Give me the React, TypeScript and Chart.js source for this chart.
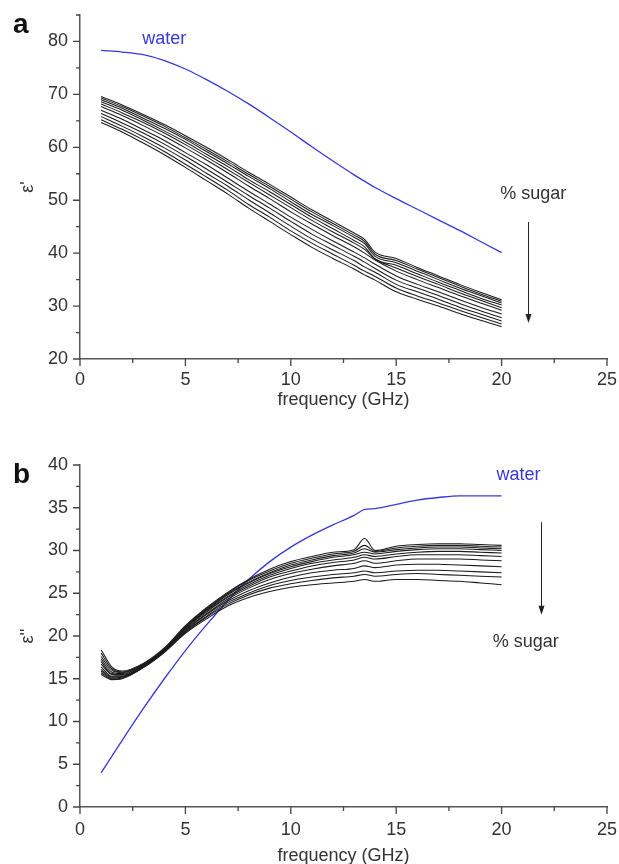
import React, { useEffect, useRef } from 'react';
import { Chart, registerables } from 'chart.js';
Chart.register(...registerables);

const FONT = '"Liberation Sans", Arial, Helvetica, sans-serif';
const BLUE = '#3838d6';
const INK = '#1c1c1c';
const TXT = '#333333';

// ---------- panel a : epsilon' ----------
const freqA = [1, 2, 3, 4, 5, 6, 7, 8, 9, 10, 11, 12, 13, 13.5, 14, 15, 16, 17, 18, 19, 20];
const waterA = [78.3, 78.0, 77.5, 76.4, 74.8, 72.8, 70.6, 68.2, 65.6, 62.9, 60.1, 57.4, 54.8, 53.6, 52.4, 50.3, 48.3, 46.3, 44.3, 42.2, 40.1];
const sugarA1 = [69.6, 68.0, 66.2, 64.3, 62.2, 60.0, 57.7, 55.3, 53.0, 50.6, 48.2, 46.0, 43.8, 42.6, 40.2, 39.0, 37.3, 35.7, 34.1, 32.6, 31.2];
const sugarA2 = [69.3, 67.7, 65.9, 64.0, 61.8, 59.6, 57.3, 54.9, 52.6, 50.2, 47.8, 45.6, 43.4, 42.2, 39.8, 38.6, 37.0, 35.4, 33.8, 32.3, 30.9];
const sugarA3 = [69.0, 67.4, 65.5, 63.6, 61.5, 59.2, 56.9, 54.5, 52.2, 49.7, 47.3, 45.2, 43.0, 41.8, 39.4, 38.2, 36.6, 35.0, 33.4, 32.0, 30.6];
const sugarA4 = [68.6, 67.0, 65.1, 63.1, 61.0, 58.7, 56.4, 53.9, 51.6, 49.2, 46.8, 44.6, 42.4, 41.2, 38.9, 37.7, 36.1, 34.5, 33.0, 31.5, 30.2];
const sugarA5 = [68.2, 66.5, 64.7, 62.7, 60.5, 58.2, 55.8, 53.4, 51.0, 48.6, 46.2, 44.0, 41.9, 40.7, 38.9, 37.2, 35.6, 34.1, 32.5, 31.1, 29.7];
const sugarA6 = [67.7, 66.0, 64.1, 62.1, 59.9, 57.6, 55.2, 52.7, 50.3, 47.8, 45.5, 43.3, 41.2, 40.0, 38.7, 36.6, 35.0, 33.5, 32.0, 30.6, 29.2];
const sugarA7 = [67.0, 65.3, 63.3, 61.3, 59.0, 56.7, 54.2, 51.7, 49.3, 46.8, 44.5, 42.3, 40.2, 39.1, 37.9, 35.7, 34.1, 32.7, 31.2, 29.8, 28.5];
const sugarA8 = [66.4, 64.6, 62.7, 60.6, 58.3, 55.9, 53.4, 50.9, 48.5, 46.0, 43.6, 41.5, 39.4, 38.3, 37.1, 34.9, 33.4, 32.0, 30.5, 29.1, 27.8];
const sugarA9 = [65.8, 64.0, 62.0, 59.9, 57.6, 55.1, 52.7, 50.1, 47.6, 45.1, 42.7, 40.6, 38.6, 37.4, 36.4, 34.1, 32.7, 31.3, 29.8, 28.5, 27.2];
const sugarA10 = [65.2, 63.4, 61.4, 59.2, 56.8, 54.4, 51.9, 49.2, 46.8, 44.2, 41.9, 39.8, 37.7, 36.6, 35.6, 33.4, 31.9, 30.6, 29.2, 27.9, 26.6];
const sugarA11 = [64.7, 62.9, 60.8, 58.6, 56.2, 53.7, 51.2, 48.5, 46.0, 43.5, 41.1, 39.0, 37.0, 35.9, 34.9, 32.7, 31.3, 30.0, 28.6, 27.3, 26.1];
const sugarA = [sugarA1, sugarA2, sugarA3, sugarA4, sugarA5, sugarA6, sugarA7, sugarA8, sugarA9, sugarA10, sugarA11];
const yMajorA = [20, 30, 40, 50, 60, 70, 80];

// ---------- panel b : epsilon'' ----------
const freqB = [1, 1.5, 2, 3, 4, 5, 6, 7, 8, 9, 10, 11, 12, 13, 13.5, 14, 15, 16, 17, 18, 19, 20];
const waterB = [4.0, 5.9, 7.8, 11.5, 15.0, 18.3, 21.3, 24.1, 26.6, 28.7, 30.4, 31.8, 33.0, 34.1, 34.8, 34.9, 35.4, 35.9, 36.2, 36.4, 36.4, 36.4];
const sugarB1 = [18.4, 16.4, 15.9, 16.8, 18.6, 21.2, 23.3, 25.1, 26.6, 27.8, 28.7, 29.3, 29.8, 30.1, 31.4, 30.0, 30.5, 30.7, 30.8, 30.8, 30.7, 30.6];
const sugarB2 = [18.0, 16.2, 15.8, 16.7, 18.5, 21.1, 23.2, 25.0, 26.5, 27.6, 28.5, 29.1, 29.6, 29.9, 30.6, 29.9, 30.3, 30.5, 30.6, 30.6, 30.5, 30.4];
const sugarB3 = [17.6, 16.0, 15.7, 16.7, 18.5, 21.0, 23.1, 24.9, 26.3, 27.4, 28.3, 28.9, 29.4, 29.7, 30.2, 29.8, 30.1, 30.3, 30.4, 30.4, 30.3, 30.2];
const sugarB4 = [17.3, 15.8, 15.6, 16.6, 18.4, 21.0, 23.0, 24.8, 26.2, 27.3, 28.1, 28.7, 29.2, 29.5, 29.8, 29.6, 29.9, 30.1, 30.2, 30.2, 30.1, 30.0];
const sugarB5 = [17.0, 15.6, 15.5, 16.6, 18.4, 20.9, 22.9, 24.6, 26.0, 27.1, 27.9, 28.5, 28.9, 29.2, 29.5, 29.3, 29.6, 29.8, 29.9, 29.9, 29.8, 29.7];
const sugarB6 = [16.7, 15.5, 15.4, 16.5, 18.3, 20.8, 22.8, 24.5, 25.8, 26.9, 27.6, 28.2, 28.6, 28.9, 29.2, 29.0, 29.3, 29.5, 29.5, 29.5, 29.4, 29.3];
const sugarB7 = [16.4, 15.3, 15.3, 16.5, 18.3, 20.7, 22.6, 24.3, 25.6, 26.6, 27.3, 27.8, 28.2, 28.5, 28.8, 28.5, 28.8, 29.0, 29.0, 29.0, 28.9, 28.8];
const sugarB8 = [16.1, 15.2, 15.2, 16.4, 18.2, 20.6, 22.5, 24.1, 25.3, 26.2, 26.9, 27.4, 27.7, 27.9, 28.2, 28.0, 28.3, 28.4, 28.4, 28.3, 28.2, 28.1];
const sugarB9 = [15.9, 15.1, 15.2, 16.4, 18.2, 20.5, 22.3, 23.9, 25.0, 25.9, 26.5, 26.9, 27.2, 27.4, 27.6, 27.4, 27.6, 27.7, 27.7, 27.6, 27.5, 27.4];
const sugarB10 = [15.7, 15.0, 15.1, 16.3, 18.1, 20.4, 22.2, 23.7, 24.8, 25.6, 26.1, 26.5, 26.8, 27.0, 27.2, 27.0, 27.2, 27.3, 27.2, 27.1, 27.0, 26.9];
const sugarB11 = [15.5, 14.9, 15.0, 16.3, 18.1, 20.3, 22.0, 23.5, 24.5, 25.2, 25.7, 26.0, 26.2, 26.4, 26.6, 26.4, 26.6, 26.6, 26.5, 26.4, 26.2, 26.0];
const sugarB = [sugarB1, sugarB2, sugarB3, sugarB4, sugarB5, sugarB6, sugarB7, sugarB8, sugarB9, sugarB10, sugarB11];
const yMajorB = [0, 5, 10, 15, 20, 25, 30, 35, 40];

const xMajor = [0, 5, 10, 15, 20, 25];

const panelA = {
  letter: 'a', letterBase: 33,
  freq: freqA, water: waterA, sugar: sugarA,
  yMin: 20, yMax: 85, yStep: 5, yMajor: yMajorA, yTitle: "ε'",
  padTop: 15, padBottom: 27, xAxisH: 46, xPad: 10,
  waterLbl: [4.0, 80.4], sugarLbl: [21.5, 51.1], arrow: [21.25, 45.9, 26.8],
};
const panelB = {
  letter: 'b', letterBase: 51,
  freq: freqB, water: waterB, sugar: sugarB,
  yMin: 0, yMax: 40, yStep: 2.5, yMajor: yMajorB, yTitle: "ε''",
  padTop: 33, padBottom: 3, xAxisH: 54, xPad: 12,
  waterLbl: [20.8, 38.8], sugarLbl: [21.15, 19.3], arrow: [21.87, 33.3, 22.5],
};

const isIn = (list: number[], v: number) => list.some((m) => Math.abs(m - v) < 1e-6);

function decor(p: any) {
  return {
    id: 'decor' + p.letter,
    afterDraw(chart: any) {
      const ctx = chart.ctx;
      const xs = chart.scales.x;
      const ys = chart.scales.y;
      ctx.save();
      // tick marks
      ctx.strokeStyle = '#444';
      ctx.lineWidth = 1.3;
      ctx.beginPath();
      xs.ticks.forEach((t: any) => {
        const px = xs.getPixelForValue(t.value);
        const len = isIn(xMajor, t.value) ? 7 : 4;
        ctx.moveTo(px, xs.top);
        ctx.lineTo(px, xs.top + len);
      });
      ys.ticks.forEach((t: any) => {
        const py = ys.getPixelForValue(t.value);
        const len = isIn(p.yMajor, t.value) ? 7 : 4;
        ctx.moveTo(ys.right - len, py);
        ctx.lineTo(ys.right, py);
      });
      ctx.stroke();
      // panel letter
      ctx.fillStyle = '#111';
      ctx.font = `bold 28px ${FONT}`;
      ctx.textAlign = 'left';
      ctx.textBaseline = 'alphabetic';
      ctx.fillText(p.letter, 13, p.letterBase);
      // labels
      ctx.font = `18px ${FONT}`;
      ctx.textAlign = 'center';
      ctx.textBaseline = 'middle';
      ctx.fillStyle = BLUE;
      ctx.fillText('water', xs.getPixelForValue(p.waterLbl[0]), ys.getPixelForValue(p.waterLbl[1]));
      ctx.fillStyle = TXT;
      ctx.fillText('% sugar', xs.getPixelForValue(p.sugarLbl[0]), ys.getPixelForValue(p.sugarLbl[1]));
      // arrow
      const ax = Math.round(xs.getPixelForValue(p.arrow[0])) + 0.5;
      const ay0 = ys.getPixelForValue(p.arrow[1]);
      const ay1 = ys.getPixelForValue(p.arrow[2]);
      ctx.strokeStyle = '#222';
      ctx.lineWidth = 1;
      ctx.beginPath();
      ctx.moveTo(ax, ay0);
      ctx.lineTo(ax, ay1 - 6);
      ctx.stroke();
      ctx.fillStyle = '#222';
      ctx.beginPath();
      ctx.moveTo(ax, ay1);
      ctx.lineTo(ax - 3, ay1 - 9);
      ctx.lineTo(ax + 3, ay1 - 9);
      ctx.closePath();
      ctx.fill();
      ctx.restore();
    },
  };
}

function makeChart(canvas: HTMLCanvasElement, p: any) {
  const datasets: any[] = p.sugar.map((ys: number[], i: number) => ({
    label: 'sugar ' + (i + 1),
    data: p.freq.map((x: number, j: number) => ({ x, y: ys[j] })),
    borderColor: INK,
    borderWidth: 1.05,
    pointRadius: 0,
    fill: false,
    cubicInterpolationMode: 'monotone',
  }));
  datasets.push({
    label: 'water',
    data: p.freq.map((x: number, j: number) => ({ x, y: p.water[j] })),
    borderColor: BLUE,
    borderWidth: 1.3,
    pointRadius: 0,
    fill: false,
    cubicInterpolationMode: 'monotone',
  });
  const tickFont = { family: FONT, size: 18 };
  return new Chart(canvas, {
    type: 'line',
    data: { datasets },
    options: {
      animation: false,
      responsive: false,
      events: [],
      layout: { padding: { left: 0, right: 12, top: p.padTop, bottom: p.padBottom } },
      plugins: { legend: { display: false }, tooltip: { enabled: false } },
      scales: {
        x: {
          type: 'linear',
          min: 0,
          max: 25,
          afterFit: (s: any) => {
            s.height = p.xAxisH;
            s.paddingLeft = 0;
            s.paddingRight = 0;
          },
          grid: { display: false, drawTicks: false },
          border: { display: true, color: '#555', width: 1.5 },
          ticks: {
            stepSize: 2.5,
            autoSkip: false,
            maxRotation: 0,
            padding: p.xPad,
            color: TXT,
            font: tickFont,
            callback: (v: any) => (isIn(xMajor, Number(v)) ? String(Number(v)) : ''),
          },
          title: {
            display: true,
            text: 'frequency (GHz)',
            color: TXT,
            font: { family: FONT, size: 18, lineHeight: 0.6 },
            padding: 0,
          },
        },
        y: {
          type: 'linear',
          min: p.yMin,
          max: p.yMax,
          afterFit: (s: any) => {
            s.width = 80;
            s.paddingTop = 0;
            s.paddingBottom = 0;
          },
          grid: { display: false, drawTicks: false },
          border: { display: true, color: '#555', width: 1.5 },
          ticks: {
            stepSize: p.yStep,
            autoSkip: false,
            padding: 12,
            color: TXT,
            font: tickFont,
            callback: (v: any) => (isIn(p.yMajor, Number(v)) ? String(Number(v)) : ''),
          },
          title: {
            display: true,
            text: p.yTitle,
            color: TXT,
            font: { family: FONT, size: 18, lineHeight: 1 },
            padding: { top: 19, bottom: 0 },
          },
        },
      },
    },
    plugins: [decor(p)],
  } as any);
}

export default function App() {
  const topRef = useRef<HTMLCanvasElement>(null);
  const botRef = useRef<HTMLCanvasElement>(null);
  useEffect(() => {
    document.body.style.margin = '0';
    const c1 = makeChart(topRef.current as HTMLCanvasElement, panelA);
    const c2 = makeChart(botRef.current as HTMLCanvasElement, panelB);
    return () => {
      c1.destroy();
      c2.destroy();
    };
  }, []);
  return (
    <div style={{ position: 'relative', width: 619, height: 864, background: '#fff' }}>
      <canvas ref={topRef} width={619} height={432} style={{ position: 'absolute', left: 0, top: 0, width: 619, height: 432 }} />
      <canvas ref={botRef} width={619} height={432} style={{ position: 'absolute', left: 0, top: 432, width: 619, height: 432 }} />
    </div>
  );
}
